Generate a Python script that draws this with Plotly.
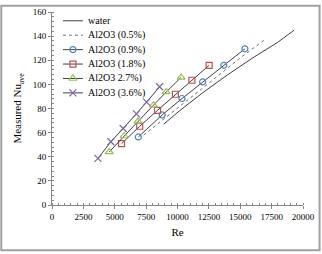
import plotly.graph_objects as go

# Data
water_re = [8900, 10150, 12000, 14000, 16000, 18000, 19300]
water_nu = [67, 78, 93, 108, 122, 135, 145]

al05_re = [7300, 10000, 12500, 15000, 16950]
al05_nu = [58, 80, 101, 122, 137]

al09_re = [6880, 8780, 10360, 12000, 13690, 15370]
al09_nu = [56.4, 74.7, 88.3, 102, 115.8, 129.5]

al18_re = [5540, 6990, 8410, 9830, 11150, 12520]
al18_nu = [50.8, 65.3, 78.5, 91.8, 103.4, 115.8]

al27_re = [4560, 5740, 6850, 8090, 9100, 10290]
al27_nu = [44, 57.2, 69.4, 82.8, 93.7, 105.8]

al36_re = [3660, 4690, 5670, 6730, 7540, 8570]
al36_nu = [38.6, 52.4, 63.4, 75.5, 85.3, 98]

names = ["water", "Al2O3 (0.5%)", "Al2O3 (0.9%)", "Al2O3 (1.8%)", "Al2O3 2.7%)", "Al2O3 (3.6%)"]

FONT = "Liberation Serif"
line_col = "#404040"
series = [
    (water_re, water_nu, dict(color=line_col, width=1), None),
    (al05_re, al05_nu, dict(color="#707070", width=1, dash="dot"), None),
    (al09_re, al09_nu, dict(color=line_col, width=1),
     dict(symbol="circle-open", size=6, color="#4F81BD", line=dict(width=1.2))),
    (al18_re, al18_nu, dict(color=line_col, width=1),
     dict(symbol="square-open", size=6, color="#C0504D", line=dict(width=1.2))),
    (al27_re, al27_nu, dict(color=line_col, width=1),
     dict(symbol="triangle-up-open", size=7, color="#9BBB59", line=dict(width=1.2))),
    (al36_re, al36_nu, dict(color=line_col, width=1),
     dict(symbol="x-thin-open", size=7, color="#8064A2", line=dict(width=1.2))),
]

fig = go.Figure()
for (xs, ys, ln, mk), nm in zip(series, names):
    fig.add_trace(go.Scatter(x=xs, y=ys, mode="lines+markers" if mk else "lines", name=nm,
                             line=ln, marker=mk, showlegend=False))

# Compact legend drawn on an overlay axis measured in pixels of the plot area
leg_y0, leg_dy = 16, 14.8
for i, ((xs, ys, ln, mk), nm) in enumerate(zip(series, names)):
    yy = leg_y0 + i * leg_dy
    fig.add_trace(go.Scatter(x=[63, 83], y=[yy, yy], mode="lines", line=ln,
                             xaxis="x2", yaxis="y2", showlegend=False, hoverinfo="skip"))
    if mk:
        fig.add_trace(go.Scatter(x=[73], y=[yy], mode="markers", marker=mk,
                                 xaxis="x2", yaxis="y2", showlegend=False, hoverinfo="skip"))
    fig.add_annotation(x=86, y=yy, xref="x2", yref="y2", text=nm, showarrow=False,
                       xanchor="left", yanchor="middle", font=dict(family=FONT, size=10, color="#000"))

axis_common = dict(showgrid=False, zeroline=False, showline=True, linecolor="#868686", linewidth=1,
                   ticks="outside", ticklen=3, tickcolor="#868686",
                   tickfont=dict(family=FONT, size=9, color="#000000"))

fig.update_layout(
    xaxis=dict(range=[0, 20000], dtick=2500, tick0=0, tickformat="d",
               minor=dict(dtick=500, ticks="inside", ticklen=2, tickcolor="#868686"),
               title=dict(text="Re", font=dict(family=FONT, size=11, color="#000"), standoff=7),
               **axis_common),
    yaxis=dict(range=[0, 160], dtick=20, tick0=0,
               minor=dict(dtick=4, ticks="inside", ticklen=2, tickcolor="#868686"),
               title=dict(text="Measured Nu<sub>ave</sub>", font=dict(family=FONT, size=11, color="#000"), standoff=8),
               **axis_common),
    xaxis2=dict(overlaying="x", range=[52, 304], visible=False, fixedrange=True),
    yaxis2=dict(overlaying="y", range=[205, 7], visible=False, fixedrange=True),
    width=322, height=254,
    margin=dict(l=52, r=18, t=7, b=49),
    paper_bgcolor="white", plot_bgcolor="white",
    font=dict(family=FONT, size=9, color="#000"),
    showlegend=False,
    shapes=[dict(type="rect", xref="paper", yref="paper", x0=-0.202, x1=1.066, y0=-0.235, y1=1.032,
                 line=dict(color="#A0A0A0", width=2))],
)

fig.write_html("out.html", config={"displayModeBar": False},
               post_script="document.body.style.margin='0';document.body.style.padding='0';window.dispatchEvent(new Event('resize'));")
